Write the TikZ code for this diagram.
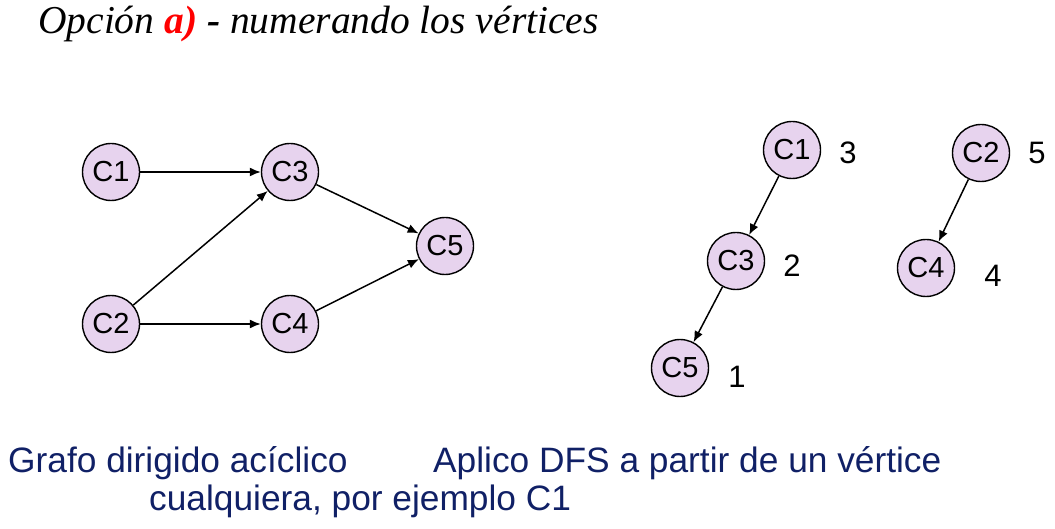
\documentclass[tikz,border=0pt]{standalone}
\usepackage{fontspec}
\setmainfont{Liberation Sans}
\newfontfamily\seriffont{Liberation Serif}
\usetikzlibrary{arrows.meta}

\definecolor{lila}{RGB}{231,211,238}
\definecolor{azul}{RGB}{16,32,102}

\tikzset{
  vert/.style={circle, draw, line width=1.4pt, fill=lila, minimum size=57pt,
    inner sep=0pt, font=\fontsize{29}{29}\selectfont},
  arco/.style={-{Latex[length=11pt,width=9pt]}, line width=1.5pt},
  num/.style={inner sep=0pt, font=\fontsize{31}{31}\selectfont},
  texto/.style={anchor=base west, inner sep=0pt, text=azul,
    font=\fontsize{35.3}{35.3}\selectfont}
}

\begin{document}
\begin{tikzpicture}[x=1pt,y=-1pt]
    \useasboundingbox (0,0) rectangle (1055,529);

    % Titulo
    \node[anchor=base west, inner sep=0pt, font=\seriffont\itshape\fontsize{39.5}{39.5}\selectfont]
      (titulo) at (38,34) {Opción \textcolor{red}{\textbf{a)}} \textbf{-} numerando los vértices};

    % Grafo dirigido aciclico
    \node[vert] (c1) at (111,172) {C1};
    \node[vert] (c3) at (290,172) {C3};
    \node[vert] (c2) at (111,324) {C2};
    \node[vert] (c4) at (290,324) {C4};
    \node[vert] (c5) at (445,246) {C5};

    \draw[arco] (c1) -- (c3);
    \draw[arco] (c2) -- (c3);
    \draw[arco] (c2) -- (c4);
    \draw[arco] (c3) -- (c5);
    \draw[arco] (c4) -- (c5);

    % DFS desde C1
    \node[vert] (d1) at (792,150) {C1};
    \node[vert] (d3) at (736,261) {C3};
    \node[vert] (d5) at (680,368) {C5};
    \node[vert] (d2) at (981,153) {C2};
    \node[vert] (d4) at (926,268) {C4};

    \draw[arco] (d1) -- (d3);
    \draw[arco] (d3) -- (d5);
    \draw[arco] (d2) -- (d4);

    % Numeracion
    \node[num] (n3) at (848,153) {3};
    \node[num] (n2) at (792,266) {2};
    \node[num] (n1) at (737,377) {1};
    \node[num] (n5) at (1037,153) {5};
    \node[num] (n4) at (993,276) {4};

    % Textos
    \node[texto] (izq) at (8,472) {Grafo dirigido acíclico};
    \node[texto] (der) at (433,472) {Aplico DFS a partir de un vértice};
    \node[texto] (der2) at (149,510) {cualquiera, por ejemplo C1};
\end{tikzpicture}
\end{document}
